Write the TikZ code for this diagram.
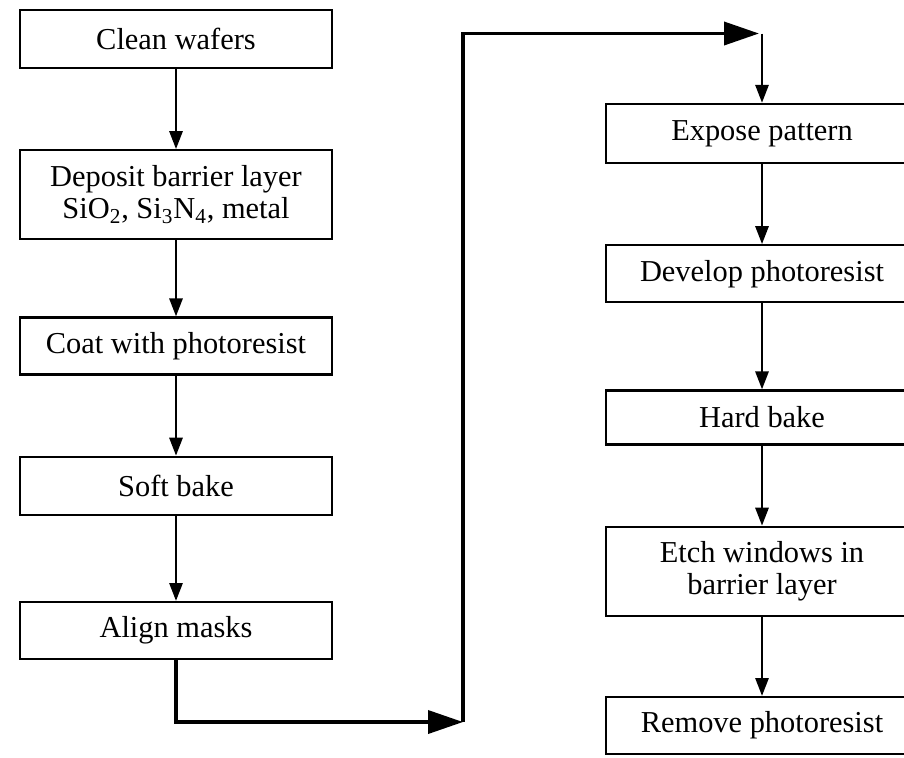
\documentclass[tikz,border=0pt]{standalone}
\usepackage{fontspec}
\setmainfont{Liberation Serif}
\usetikzlibrary{arrows.meta}
\usetikzlibrary{positioning}
\tikzstyle{stage}=[rectangle, draw, line width=1.3pt, minimum width=6.24cm, minimum height=1.14cm, align=center, inner sep=2pt, font=\fontsize{17.3}{18.2}\selectfont]
\tikzstyle{tall}=[minimum height=1.78cm]
\tikzstyle{flow}=[->, line width=1.6pt]
\tikzstyle{bigflow}=[line width=2.1pt, -{Triangle[length=0.7cm, width=0.46cm]}]

\begin{document}
\begin{tikzpicture}[>={Triangle[length=0.36cm, width=0.26cm]}]
    \useasboundingbox (0,0) rectangle (18.08,-15.14);
    \clip (0,0) rectangle (18.08,-15.14);

    % left column
    \node[stage, minimum height=1.16cm] (clean) at (3.52,-0.78) {Clean wafers};
    \node[stage, tall, below=1.6cm of clean] (deposit) {Deposit barrier layer\\SiO\textsubscript{2}, Si\textsubscript{3}N\textsubscript{4}, metal};
    \node[stage, below=1.52cm of deposit] (coat) {Coat with photoresist};
    \node[stage, minimum height=1.16cm, below=1.6cm of coat] (soft) {Soft bake};
    \node[stage, below=1.7cm of soft] (align) {Align masks};

    % right column
    \node[stage, minimum height=1.18cm] (expose) at (15.24,-2.67) {Expose pattern};
    \node[stage, below=1.6cm of expose] (develop) {Develop photoresist};
    \node[stage, minimum height=1.08cm, below=1.72cm of develop] (hard) {Hard bake};
    \node[stage, tall, below=1.6cm of hard] (etch) {Etch windows in\\barrier layer};
    \node[stage, below=1.58cm of etch] (remove) {Remove photoresist};

    % corners of the long connector
    \coordinate (c2) at (9.26,-14.44);
    \coordinate (c4) at (15.18,-0.67);

    \draw[flow] (clean) -- (deposit);
    \draw[flow] (deposit) -- (coat);
    \draw[flow] (coat) -- (soft);
    \draw[flow] (soft) -- (align);

    \draw[bigflow] (align.south) |- (c2);
    \draw[bigflow] (c2) |- (c4);
    \draw[flow] (expose.north |- c4) -- (expose.north);

    \draw[flow] (expose) -- (develop);
    \draw[flow] (develop) -- (hard);
    \draw[flow] (hard) -- (etch);
    \draw[flow] (etch) -- (remove);
\end{tikzpicture}
\end{document}
